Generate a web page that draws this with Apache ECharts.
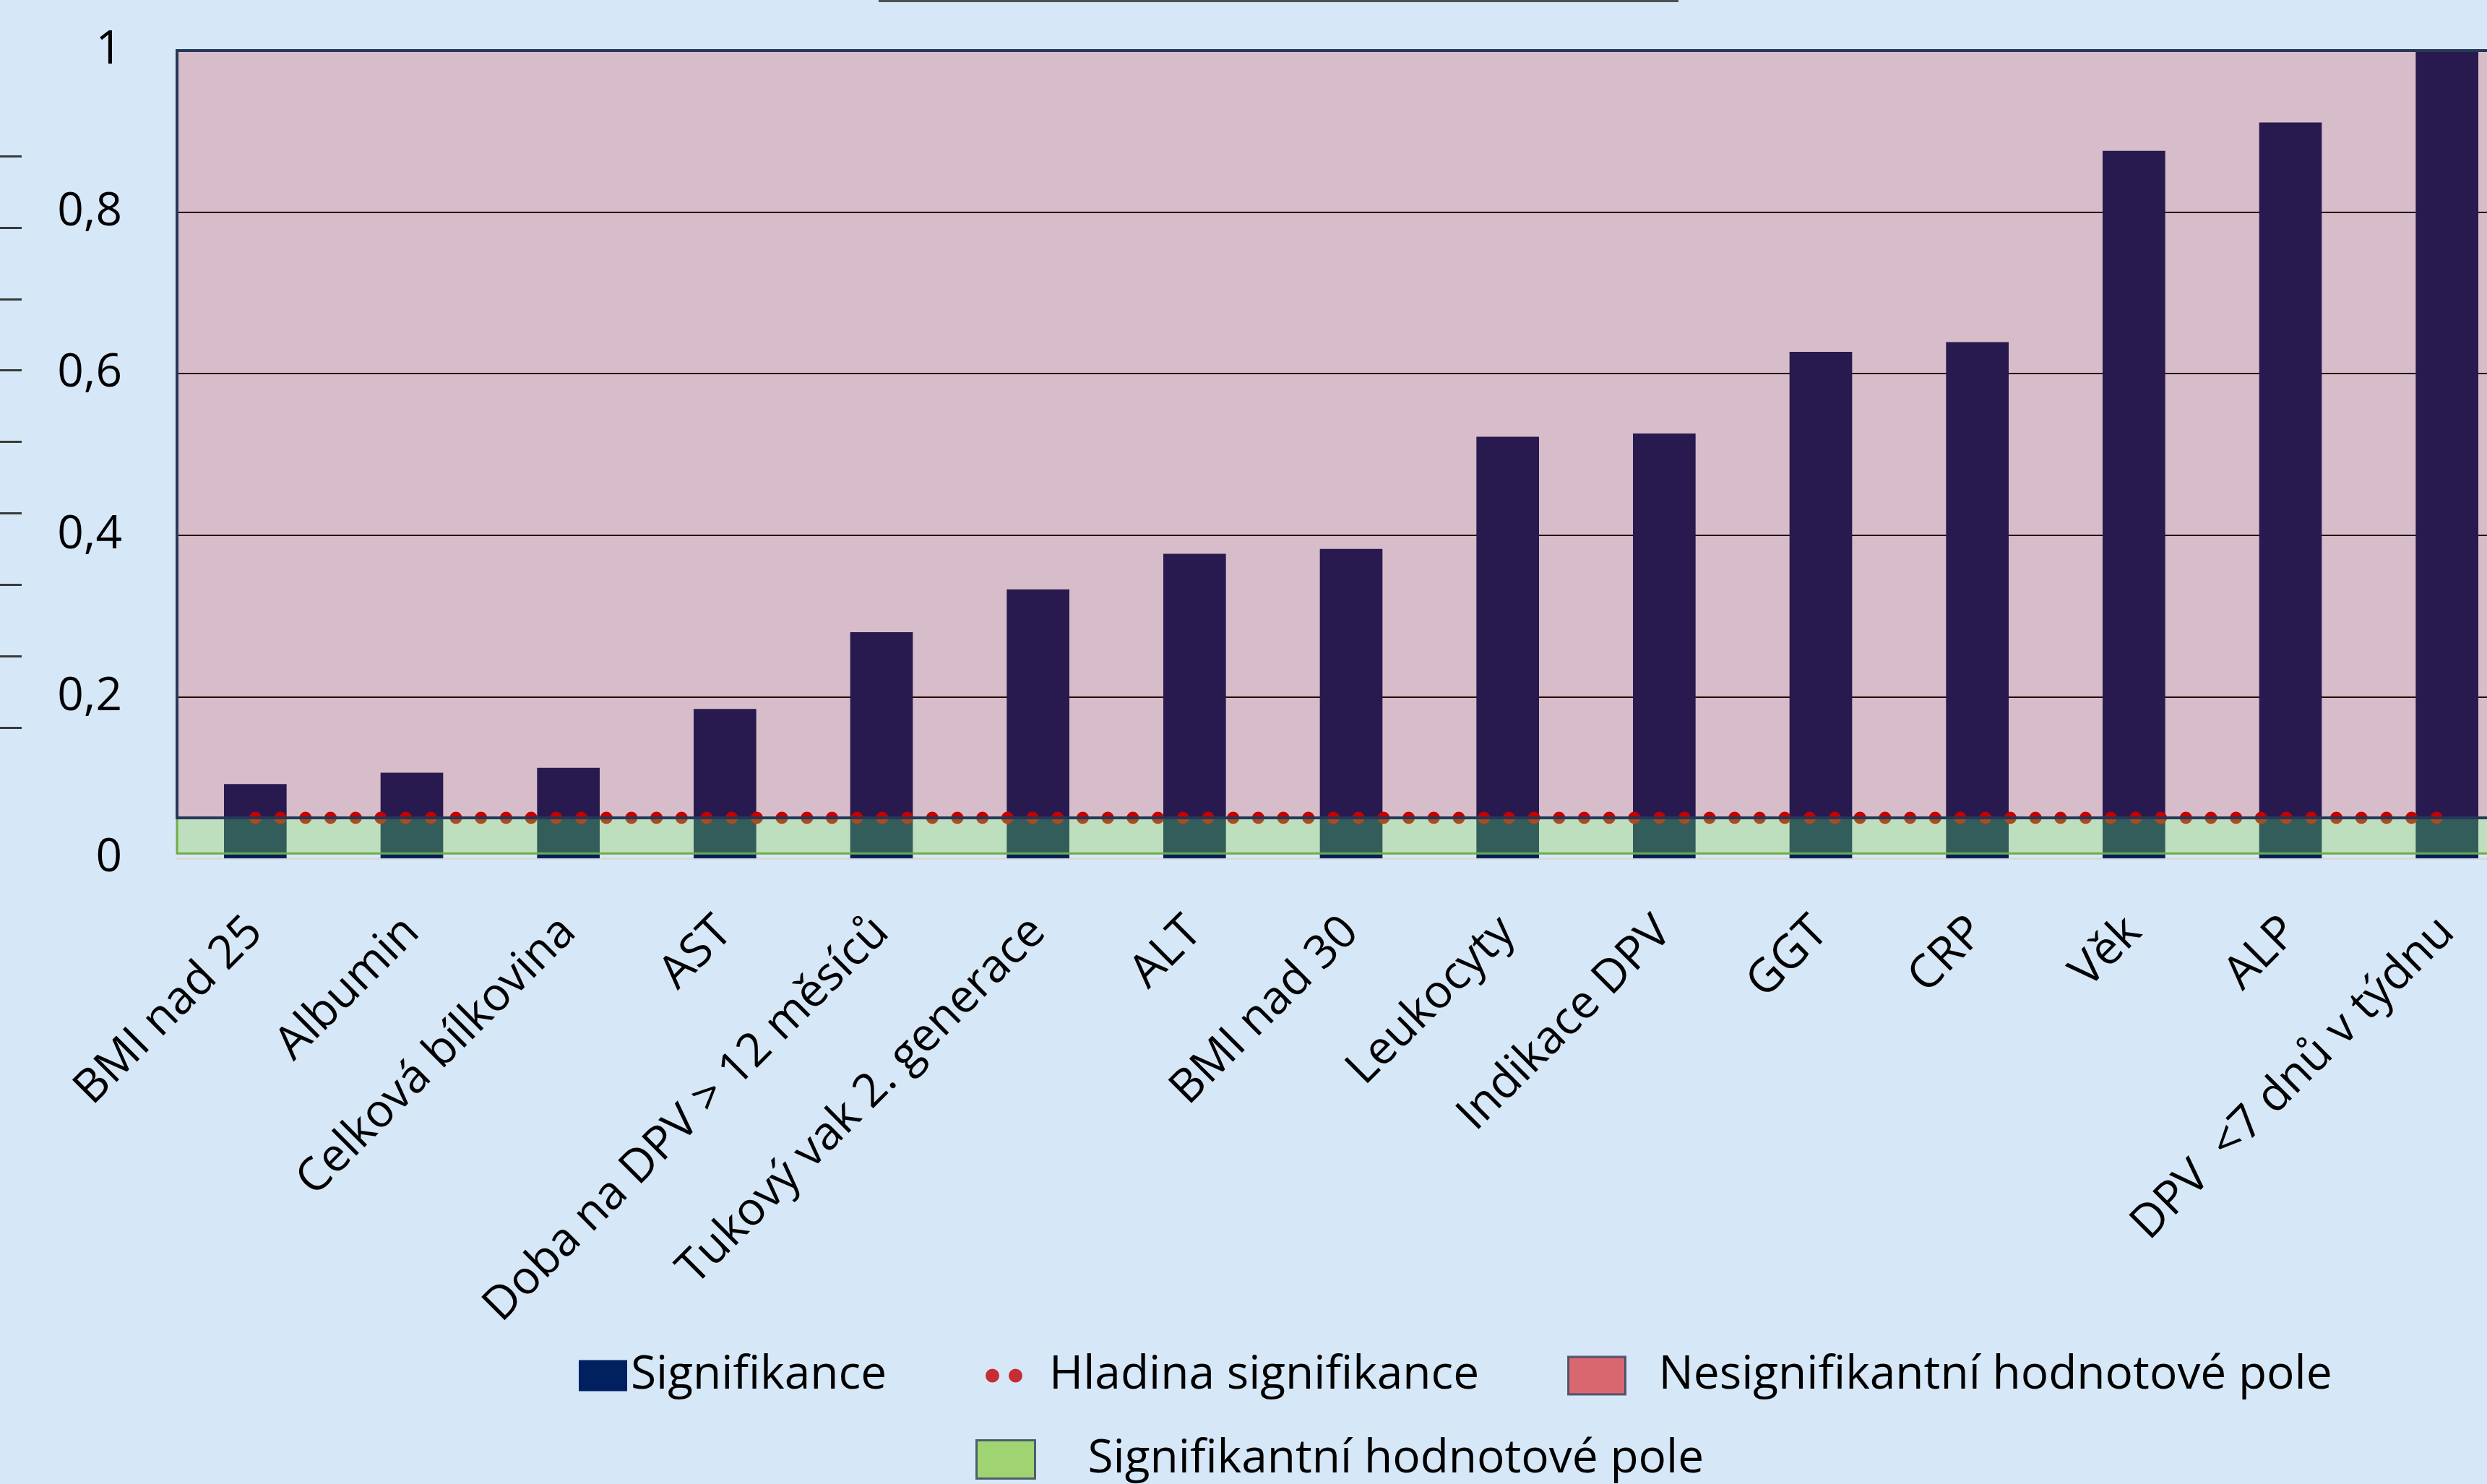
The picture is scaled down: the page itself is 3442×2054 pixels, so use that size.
<!DOCTYPE html>
<html>
<head>
<meta charset="utf-8">
<script src="https://cdn.jsdelivr.net/npm/echarts@6/dist/echarts.min.js"></script>
<style>
html,body{margin:0;padding:0;background:#d6e7f7;}
#chart{width:3442px;height:2054px;}
</style>
</head>
<body>
<div id="chart"></div>
<script>
// ---- data ----
const categories = ['BMI nad 25','Albumin','Celková bílkovina','AST','Doba na DPV > 12 měsíců','Tukový vak 2. generace','ALT','BMI nad 30','Leukocyty','Indikace DPV','GGT','CRP','Věk','ALP','DPV  <7 dnů v týdnu'];
const significance = [0.092, 0.106, 0.112, 0.185, 0.280, 0.333, 0.377, 0.383, 0.522, 0.526, 0.627, 0.639, 0.876, 0.911, 1.0];
const significanceLevel = [0.05, 0.05, 0.05, 0.05, 0.05, 0.05, 0.05, 0.05, 0.05, 0.05, 0.05, 0.05, 0.05, 0.05, 0.05];
const nonSignificantBand = [0.05, 1];
const significantBand = [0.006, 0.05];
const yTickLabels = ['0', '0,2', '0,4', '0,6', '0,8', '1'];
const seriesNames = ['Signifikance', 'Hladina signifikance', 'Nesignifikantní hodnotové pole', 'Signifikantní hodnotové pole'];

const FONT = "'Open Sans', 'Noto Sans', sans-serif";
const txt = {color:'#000', fontSize:64, fontFamily:FONT, lineHeight:64};

const dotsIcon = 'path://M0,9.5a9.5,9.5 0 1,0 19,0a9.5,9.5 0 1,0 -19,0z M32,9.5a9.5,9.5 0 1,0 19,0a9.5,9.5 0 1,0 -19,0z M83,0';
const redIcon = 'path://M0,0h79v52h-79z M120,52';
const greenIcon = 'path://M0,0h81v53h-81z M149,53';

const chart = echarts.init(document.getElementById('chart'), null, {renderer:'canvas'});
const option = {
  animation:false,
  backgroundColor:'#d6e7f7',
  grid:[
    {left:245, width:3250, top:70, height:1118, containLabel:false, outerBoundsMode:'none'},
    {left:30, top:216, height:791, width:10, outerBoundsMode:'none'}
  ],
  xAxis:[
    {type:'category', data:categories, gridIndex:0,
     axisLine:{show:true, lineStyle:{color:'#d9d9d9', width:3}},
     axisTick:{show:false},
     axisLabel:Object.assign({interval:0, rotate:45, margin:92}, txt),
     splitLine:{show:false}},
    {type:'value', gridIndex:1, show:false}
  ],
  yAxis:[
    {type:'value', min:0, max:1, interval:0.2, gridIndex:0,
     axisLine:{show:false}, axisTick:{show:false},
     axisLabel:Object.assign({margin:76, formatter:function(v){return yTickLabels[Math.round(v/0.2)];}}, txt),
     splitLine:{show:true, showMinLine:false, lineStyle:{color:'#000', width:2}}},
    {type:'value', min:0, max:8, interval:1, gridIndex:1,
     axisLine:{show:false}, axisLabel:{show:false}, splitLine:{show:false},
     axisTick:{show:true, length:30, lineStyle:{color:'#3a3a3a', width:3}}}
  ],
  legend:[
    {data:[{name:seriesNames[0], icon:'rect', itemStyle:{color:'#002060'}}],
     left:801, top:1872, padding:0, itemWidth:67, itemHeight:43, selectedMode:false, textStyle:txt},
    {data:[{name:seriesNames[1], icon:dotsIcon, itemStyle:{color:'#c00000'}}],
     left:1364, top:1872, padding:0, itemWidth:83, itemHeight:19, selectedMode:false, textStyle:txt},
    {data:[{name:seriesNames[2], icon:redIcon, itemStyle:{color:'#d9474d', borderColor:'#2f3e5f', borderWidth:3}}],
     left:2169, top:1872, padding:0, itemWidth:120, itemHeight:52, selectedMode:false, textStyle:txt},
    {data:[{name:seriesNames[3], icon:greenIcon, itemStyle:{color:'#92d050', borderColor:'#2f3e5f', borderWidth:3}}],
     left:1350, top:1988, padding:0, itemWidth:149, itemHeight:53, selectedMode:false, textStyle:txt}
  ],
  series:[
    {name:seriesNames[0], type:'bar', data:significance, barWidth:'40%', z:2,
     itemStyle:{color:'#002060'}},
    {name:seriesNames[1], type:'scatter', data:[], itemStyle:{color:'#c00000'}},
    {name:seriesNames[1], type:'line', data:significanceLevel, symbol:'none', z:3, silent:true,
     itemStyle:{color:'#c00000'},
     lineStyle:{color:'#c00000', width:17, type:[0.1, 34.6], cap:'round'}},
    {name:seriesNames[3], type:'scatter', data:[], z:4, itemStyle:{color:'#92d050'},
     markArea:{z:10, silent:true, itemStyle:{color:'rgba(146,208,80,0.35)', borderColor:'#70ad47', borderWidth:3},
       data:[[{yAxis:significantBand[0]},{yAxis:significantBand[1]}]]}},
    {name:seriesNames[2], type:'scatter', data:[], z:5, itemStyle:{color:'#d9474d'},
     markArea:{z:11, silent:true, itemStyle:{color:'rgba(220,0,0,0.18)', borderColor:'#26385a', borderWidth:4},
       data:[[{yAxis:nonSignificantBand[0]},{yAxis:nonSignificantBand[1]}]]}}
  ],
  graphic:[
    {type:'line', shape:{x1:1216, y1:1.5, x2:2323, y2:1.5}, style:{stroke:'#505050', lineWidth:3}, silent:true}
  ]
};
chart.setOption(option);
</script>
</body>
</html>
